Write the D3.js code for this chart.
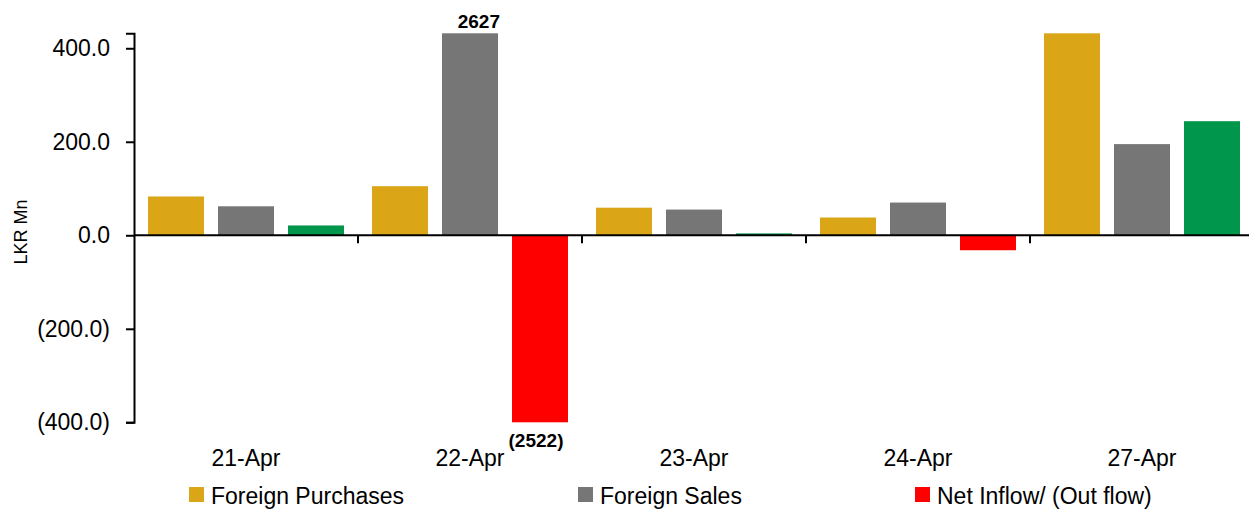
<!DOCTYPE html>
<html>
<head>
<meta charset="utf-8">
<script src="https://cdn.jsdelivr.net/npm/d3@7"></script>
<style>
  body { margin: 0; background: #fff; }
  svg { display: block; font-family: "Liberation Sans", Arial, sans-serif; }
</style>
</head>
<body>
<div id="chart"></div>
<script>
// Données
const categories = ["21-Apr", "22-Apr", "23-Apr", "24-Apr", "27-Apr"];
const purchases = [83, 105, 59, 38, 439];
const sales = [62, 2627, 55, 70, 195];
const netFlow = [21, -2522, 4, -32, 244];
const seriesNames = ["Foreign Purchases", "Foreign Sales", "Net Inflow/ (Out flow)"];
const yTicks = [-400, -200, 0, 200, 400];

const W = 1249, H = 510;
const colors = { purch: "#DAA517", sales: "#767676", netPos: "#00964B", netNeg: "#FF0000" };

const svg = d3.select("#chart").append("svg")
    .attr("width", W)
    .attr("height", H);

// Échelles
const x0 = d3.scaleBand()
    .domain(categories)
    .range([134, 1254])
    .padding(0);

const x1 = d3.scaleBand()
    .domain(["p", "s", "n"])
    .range([0, x0.bandwidth()])
    .paddingInner(0.2)
    .paddingOuter(0.2);

const y = d3.scaleLinear()
    .domain([-400, 432])
    .range([422.3, 33.3])
    .clamp(true);

const fmt = d => d < 0 ? "(" + (-d).toFixed(1) + ")" : d.toFixed(1);

// Axe Y
const yAxis = svg.append("g")
    .attr("transform", "translate(134,0)")
    .call(d3.axisLeft(y).tickValues(yTicks).tickFormat(fmt).tickSize(8).tickPadding(16));
yAxis.select(".domain").attr("stroke", "#000").attr("stroke-width", 2);
yAxis.selectAll(".tick line").attr("stroke", "#000").attr("stroke-width", 2);
yAxis.selectAll(".tick text")
    .attr("fill", "#000")
    .style("font-size", "23px")
    .style("font-family", "'Liberation Sans', Arial, sans-serif");

svg.append("text")
    .attr("transform", "translate(27,232) rotate(-90)")
    .attr("text-anchor", "middle")
    .style("font-size", "18px")
    .text("LKR Mn");

// Barres
const rows = categories.map((c, i) => ({
    cat: c,
    vals: [
        { key: "p", v: purchases[i] },
        { key: "s", v: sales[i] },
        { key: "n", v: netFlow[i] }
    ]
}));

const groups = svg.selectAll(".grp")
    .data(rows)
    .enter().append("g")
    .attr("class", "grp")
    .attr("transform", d => "translate(" + x0(d.cat) + ",0)");

groups.selectAll("rect")
    .data(d => d.vals)
    .enter().append("rect")
    .attr("x", d => x1(d.key))
    .attr("width", x1.bandwidth())
    .attr("y", d => Math.min(y(d.v), y(0)))
    .attr("height", d => Math.abs(y(d.v) - y(0)))
    .attr("fill", d => d.key == "p" ? colors.purch : d.key == "s" ? colors.sales : (d.v < 0 ? colors.netNeg : colors.netPos));

// Axe X (ligne zéro)
svg.append("line")
    .attr("x1", 134).attr("x2", W)
    .attr("y1", y(0)).attr("y2", y(0))
    .attr("stroke", "#000").attr("stroke-width", 2);

svg.selectAll(".xtick")
    .data(categories.slice(1))
    .enter().append("line")
    .attr("x1", d => x0(d)).attr("x2", d => x0(d))
    .attr("y1", y(0)).attr("y2", y(0) + 8)
    .attr("stroke", "#000").attr("stroke-width", 2);

svg.selectAll(".xlab")
    .data(categories)
    .enter().append("text")
    .attr("x", d => x0(d) + x0.bandwidth() / 2)
    .attr("y", 466)
    .attr("text-anchor", "middle")
    .style("font-size", "23px")
    .text(d => d);

// Étiquettes des valeurs hors échelle
const i22 = 1;
svg.append("text")
    .attr("x", x0(categories[i22]) + x1("s") + x1.bandwidth() + 2)
    .attr("y", 28)
    .attr("text-anchor", "end")
    .style("font-size", "19px")
    .style("font-weight", "bold")
    .text(sales[i22]);

svg.append("text")
    .attr("x", x0(categories[i22]) + x1("n") + x1.bandwidth() / 2 - 4)
    .attr("y", 447)
    .attr("text-anchor", "middle")
    .style("font-size", "19px")
    .style("font-weight", "bold")
    .text("(" + (-netFlow[i22]) + ")");

// Légende
const legendX = [189, 578, 915];
const legendCol = [colors.purch, colors.sales, colors.netNeg];
const leg = svg.selectAll(".leg")
    .data(seriesNames)
    .enter().append("g")
    .attr("transform", (d, i) => "translate(" + legendX[i] + ",487)");

leg.append("rect")
    .attr("width", 15).attr("height", 15)
    .attr("fill", (d, i) => legendCol[i]);

leg.append("text")
    .attr("x", 22)
    .attr("y", 17)
    .style("font-size", "23px")
    .text(d => d);
</script>
</body>
</html>
